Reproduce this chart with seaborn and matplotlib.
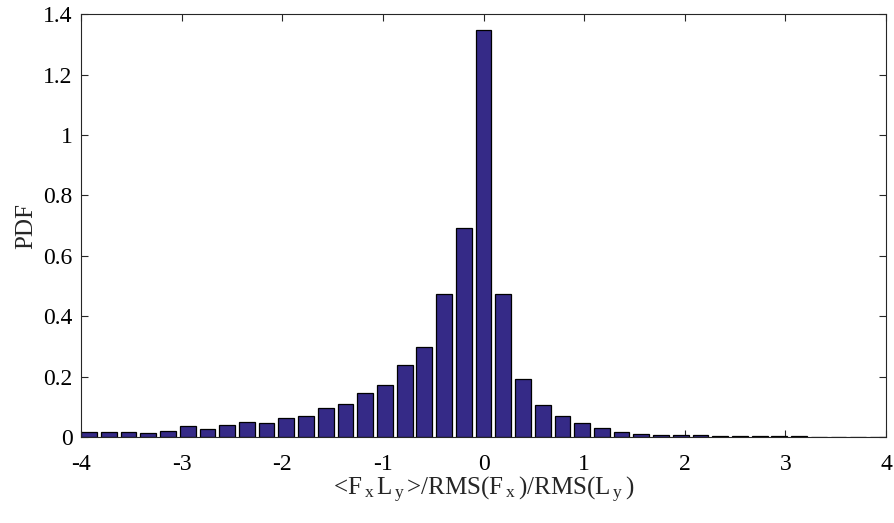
"""
PDF of normalised <FxLy> correlation, bar chart
"""

import numpy as np
import matplotlib
matplotlib.use("Agg")
import matplotlib.pyplot as plt
from matplotlib.ticker import FuncFormatter, MultipleLocator
import seaborn as sns

sns.set_style("ticks")
plt.rcParams["font.family"] = ["Liberation Serif", "DejaVu Serif"]
plt.rcParams["mathtext.fontset"] = "custom"
plt.rcParams["mathtext.rm"] = "Liberation Serif"
plt.rcParams["mathtext.default"] = "regular"
plt.rcParams["axes.unicode_minus"] = False

# bin centres (41 bins, spacing 0.196)
bin_centers = np.round(np.arange(-20, 21) * 0.196, 3)

pdf_values = [
    0.016, 0.018, 0.017, 0.013, 0.020, 0.035, 0.028, 0.040, 0.050, 0.048,
    0.064, 0.071, 0.097, 0.109, 0.145, 0.172, 0.239, 0.297, 0.473, 0.693,
    1.347,
    0.475, 0.193, 0.106, 0.069, 0.045, 0.031, 0.016, 0.010, 0.006, 0.006,
    0.006, 0.004, 0.003, 0.002, 0.002, 0.002, 0.0015, 0.001, 0.001, 0.001,
]

bar_color = "#352A87"
axis_color = "#262626"

fig = plt.figure(figsize=(8.95, 5.23), dpi=100)
ax = fig.add_axes([0.0905, 0.1644, 0.8995, 0.8086])

sns.barplot(
    x=bin_centers,
    y=pdf_values,
    native_scale=True,
    color=bar_color,
    saturation=1,
    edgecolor="black",
    linewidth=0.9,
    width=0.8,
    ax=ax,
)

ax.set_xlim(-4, 4)
ax.set_ylim(0, 1.4)
ax.xaxis.set_major_locator(MultipleLocator(1))
ax.yaxis.set_major_locator(MultipleLocator(0.2))
ax.yaxis.set_major_formatter(FuncFormatter(lambda v, _: f"{v:g}"))
ax.xaxis.set_major_formatter(FuncFormatter(lambda v, _: f"{v:g}"))

for side in ["top", "right", "left", "bottom"]:
    ax.spines[side].set_visible(True)
    ax.spines[side].set_color(axis_color)
    ax.spines[side].set_linewidth(0.8)

ax.tick_params(
    direction="in", length=5, width=0.8, color=axis_color,
    top=True, right=True, labelsize=17, labelcolor="black", pad=6,
)
ax.tick_params(axis="x", pad=12)

ax.set_xlabel(
    r"<F$_{\,x\,}$L$_{\,y\,}$>/RMS(F$_{\,x\,}$)/RMS(L$_{\,y\,}$)",
    fontsize=18, labelpad=0,
)
ax.set_ylabel("PDF", fontsize=18, labelpad=4)

fig.savefig("out.png", dpi=100)
plt.close(fig)
